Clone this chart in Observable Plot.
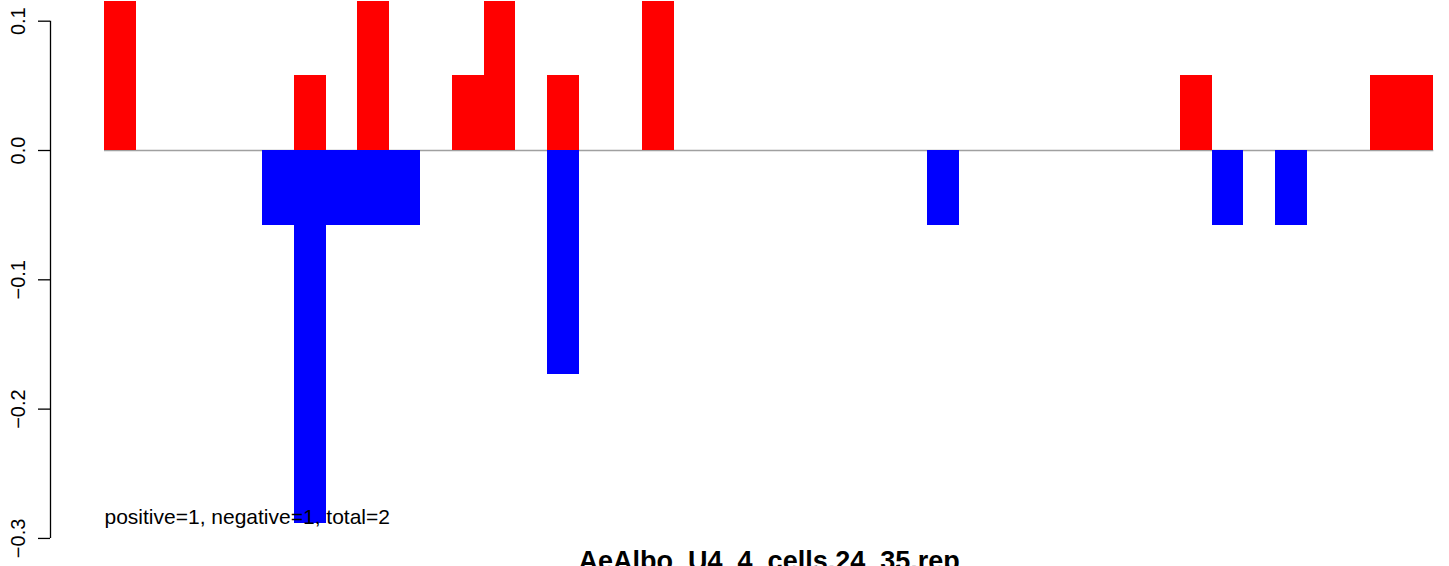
<!DOCTYPE html>
<html>
<head>
<meta charset="utf-8">
<script src="https://cdn.jsdelivr.net/npm/d3@7"></script>
<script src="https://cdn.jsdelivr.net/npm/@observablehq/plot@0.6"></script>
<style>
  html, body { margin: 0; padding: 0; background: #fff; }
  #chart { width: 1449px; height: 566px; overflow: hidden; }
  svg { font-family: "Liberation Sans", Arial, Helvetica, sans-serif; }
</style>
</head>
<body>
<div id="chart"></div>
<script>
// Bin index (42 bins)
const bins = d3.range(42);
// Positive (red) values per bin
const posValues = [
  0.1154, 0, 0, 0, 0, 0, 0.0577, 0, 0.1154, 0,
  0, 0.0577, 0.1154, 0, 0.0577, 0, 0, 0.1154, 0, 0,
  0, 0, 0, 0, 0, 0, 0, 0, 0, 0,
  0, 0, 0, 0, 0.0577, 0, 0, 0, 0, 0,
  0.0577, 0.0577
];
// Negative (blue) values per bin
const negValues = [
  0, 0, 0, 0, 0, -0.0577, -0.2885, -0.0577, -0.0577, -0.0577,
  0, 0, 0, 0, -0.1731, 0, 0, 0, 0, 0,
  0, 0, 0, 0, 0, 0, -0.0577, 0, 0, 0,
  0, 0, 0, 0, 0, -0.0577, 0, -0.0577, 0, 0,
  0, 0
];
const yTicks = [-0.3, -0.2, -0.1, 0.0, 0.1];
const annotation = "positive=1, negative=1, total=2";
const annotationY = -0.2833;
const title = "AeAlbo_U4_4_cells.24_35.rep";

const pos = bins.map(i => ({i, v: posValues[i]})).filter(d => d.v !== 0);
const neg = bins.map(i => ({i, v: negValues[i]})).filter(d => d.v !== 0);

const xMin = -1.706, xMax = 42.496;
const fmt = d => d.toFixed(1).replace("-", "\u2212");

const chart = Plot.plot({
  width: 1449,
  height: 566,
  marginLeft: 50,
  marginRight: 0,
  marginTop: 0,
  marginBottom: 0,
  style: {background: "#fff", fontFamily: "'Liberation Sans', Arial, Helvetica, sans-serif"},
  x: {domain: [xMin, xMax], axis: null},
  y: {domain: [-0.3217, 0.1160], axis: null},
  marks: [
    Plot.ruleY([0], {x1: 0, x2: bins.length, stroke: "#a0a0a0", strokeWidth: 1.6}),
    Plot.rect(pos, {x1: "i", x2: d => d.i + 1, y1: 0, y2: "v", fill: "#ff0000", clip: true, shapeRendering: "crispEdges"}),
    Plot.rect(neg, {x1: "i", x2: d => d.i + 1, y1: 0, y2: "v", fill: "#0000ff", clip: true, shapeRendering: "crispEdges"}),
    Plot.ruleX([xMin], {y1: d3.min(yTicks), y2: d3.max(yTicks), stroke: "#000", strokeWidth: 1.3}),
    Plot.axisY(yTicks, {anchor: "left", tickSize: 12, tickRotate: -90, tickPadding: 14,
      fontSize: 20, tickFormat: fmt, stroke: "#000", strokeWidth: 1.3, label: null}),
    Plot.text([annotation], {x: 0, y: annotationY, text: d => d, textAnchor: "start",
      lineAnchor: "middle", fontSize: 21, fill: "#000"}),
    Plot.text([title], {x: bins.length / 2, frameAnchor: "bottom", text: d => d, textAnchor: "middle",
      lineAnchor: "top", dy: -16, fontSize: 27, fontWeight: "bold", fill: "#000"})
  ]
});
document.getElementById("chart").appendChild(chart);
</script>
</body>
</html>
